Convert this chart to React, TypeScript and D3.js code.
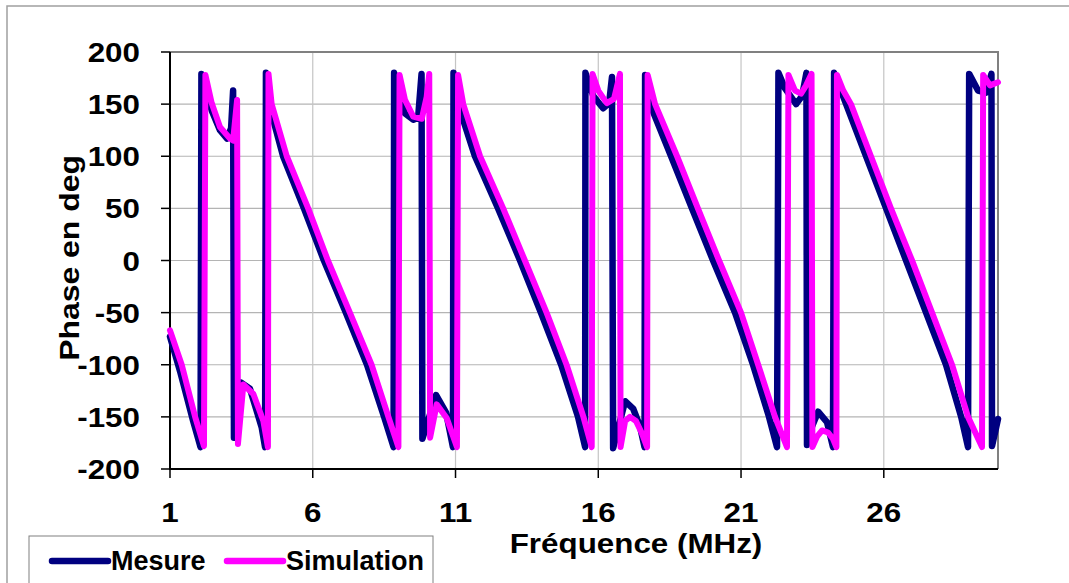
import React, { useEffect, useRef } from 'react';
import * as d3 from 'd3';

// frequency (MHz), phase (deg)
const mesure: [number, number][] = [
  [1.0, -73], [1.35, -106], [1.81, -154], [2.07, -179], [2.1, 179], [2.46, 144], [2.75, 125],
  [3.0, 117], [3.14, 127], [3.21, 163], [3.24, -170], [3.48, -117], [3.8, -123], [4.21, -160],
  [4.33, -179], [4.36, 180], [4.47, 150], [4.96, 100], [5.69, 50], [6.39, 0], [7.16, -50],
  [7.9, -100], [8.5, -150], [8.83, -179], [8.85, 180], [9.23, 141], [9.52, 135], [9.69, 137],
  [9.81, 179], [9.84, -171], [10.32, -129], [10.67, -146], [10.91, -179], [10.93, 180],
  [11.09, 150], [11.68, 100], [12.49, 50], [13.26, 0], [13.99, -50], [14.7, -100], [15.29, -150],
  [15.54, -179], [15.55, 180], [15.82, 158], [16.17, 146], [16.38, 151], [16.48, 176],
  [16.52, -180], [16.94, -135], [17.22, -142], [17.46, -159], [17.62, -179], [17.64, 178],
  [17.81, 150], [18.55, 100], [19.28, 50], [20.02, 0], [20.79, -50], [21.42, -100], [21.98, -150],
  [22.26, -179], [22.31, 180], [22.54, 165], [22.93, 150], [23.14, 158], [23.29, 180],
  [23.31, -177], [23.49, -159], [23.7, -145], [24.01, -155], [24.22, -179], [24.26, 180],
  [24.68, 150], [25.38, 100], [26.08, 50], [26.78, 0], [27.48, -50], [28.18, -100], [28.71, -150],
  [28.95, -179], [28.99, 179], [29.3, 163], [29.58, 161], [29.77, 179], [29.79, -178], [30.0, -152]
];

const simulation: [number, number][] = [
  [1.0, -67], [1.41, -100], [1.88, -150], [2.19, -178], [2.24, 178], [2.46, 151], [2.75, 128],
  [3.1, 117], [3.21, 115], [3.35, 154], [3.38, -176], [3.57, -119], [3.92, -128], [4.27, -154],
  [4.43, -179], [4.45, 179], [4.56, 150], [5.09, 100], [5.84, 50], [6.53, 0], [7.3, -50],
  [8.06, -100], [8.65, -150], [9.0, -179], [9.04, 178], [9.23, 154], [9.52, 138], [9.82, 136],
  [9.99, 157], [10.08, 179], [10.11, -170], [10.34, -138], [10.69, -151], [11.05, -179],
  [11.09, 178], [11.27, 150], [11.86, 100], [12.67, 50], [13.43, 0], [14.19, -50], [14.89, -100],
  [15.48, -150], [15.77, -179], [15.8, 179], [16.0, 163], [16.3, 151], [16.55, 155], [16.76, 179],
  [16.78, -179], [16.94, -154], [17.11, -150], [17.32, -154], [17.53, -166], [17.71, -179],
  [17.73, 178], [17.99, 150], [18.76, 100], [19.49, 50], [20.23, 0], [21.0, -50], [21.6, -100],
  [22.19, -150], [22.61, -179], [22.66, 178], [22.89, 163], [23.1, 160], [23.28, 168], [23.47, 179],
  [23.5, -179], [23.66, -169], [23.84, -163], [24.05, -165], [24.22, -171], [24.34, -179],
  [24.36, 178], [24.58, 163], [24.85, 150], [25.55, 100], [26.25, 50], [26.99, 0], [27.69, -50],
  [28.39, -100], [28.95, -150], [29.44, -179], [29.48, 178], [29.72, 168], [30.0, 171]
];

const xTicks = [1, 6, 11, 16, 21, 26];
const yTicks = [-200, -150, -100, -50, 0, 50, 100, 150, 200];
const seriesNames = ['Mesure', 'Simulation'];
const seriesColors = ['#000080', '#FF00FF'];

const FONT = 'Arial, "Liberation Sans", sans-serif';

const App = () => {
  const svgRef = useRef(null);

  useEffect(() => {
    const svg = d3.select(svgRef.current);
    svg.selectAll('*').remove();

    const x = d3.scaleLinear().domain([1, 30]).range([170, 998]);
    const y = d3.scaleLinear().domain([-200, 200]).range([469, 52]);

    svg.append('rect').attr('width', 1069).attr('height', 583).attr('fill', '#fff');

    // chart frame (runs past the right and bottom edges of the picture)
    svg.append('rect')
      .attr('x', 7).attr('y', 6).attr('width', 1100).attr('height', 620)
      .attr('fill', 'none').attr('stroke', '#a0a0a0').attr('stroke-width', 1.5);

    // gridlines
    yTicks.filter(v => v > -200 && v < 200).forEach(v => {
      svg.append('line')
        .attr('x1', x(1)).attr('x2', x(30)).attr('y1', y(v)).attr('y2', y(v))
        .attr('stroke', '#b4b4b4').attr('stroke-width', 1.2);
    });
    xTicks.filter(v => v > 1).forEach(v => {
      svg.append('line')
        .attr('x1', x(v)).attr('x2', x(v)).attr('y1', y(200)).attr('y2', y(-200))
        .attr('stroke', '#c4c4c4').attr('stroke-width', 1.2);
    });

    // plot border (top/right gray, axes black)
    svg.append('path')
      .attr('d', `M${x(1)},${y(200)}H${x(30)}V${y(-200)}`)
      .attr('fill', 'none').attr('stroke', '#808080').attr('stroke-width', 2);
    svg.append('path')
      .attr('d', `M${x(1)},${y(200)}V${y(-200)}H${x(30)}`)
      .attr('fill', 'none').attr('stroke', '#000').attr('stroke-width', 2);

    // ticks
    yTicks.forEach(v => {
      svg.append('line')
        .attr('x1', x(1) - 9).attr('x2', x(1)).attr('y1', y(v)).attr('y2', y(v))
        .attr('stroke', '#000').attr('stroke-width', 1.5);
      svg.append('g')
        .attr('transform', `translate(140,${y(v) + 10}) scale(1.12,1)`)
        .append('text')
        .attr('text-anchor', 'end')
        .attr('font-family', FONT).attr('font-weight', 'bold').attr('font-size', 28)
        .text(v);
    });
    xTicks.forEach(v => {
      svg.append('line')
        .attr('x1', x(v)).attr('x2', x(v)).attr('y1', y(-200)).attr('y2', y(-200) + 9)
        .attr('stroke', '#000').attr('stroke-width', 1.5);
      svg.append('g')
        .attr('transform', `translate(${x(v)},522) scale(1.12,1)`)
        .append('text')
        .attr('text-anchor', 'middle')
        .attr('font-family', FONT).attr('font-weight', 'bold').attr('font-size', 28)
        .text(v);
    });

    // axis titles
    svg.append('g')
      .attr('transform', 'translate(636,553) scale(1.12,1)')
      .append('text')
      .attr('text-anchor', 'middle')
      .attr('font-family', FONT).attr('font-weight', 'bold').attr('font-size', 28)
      .text('Fréquence (MHz)');
    svg.append('g')
      .attr('transform', 'translate(79,258) rotate(-90) scale(1.12,1)')
      .append('text')
      .attr('text-anchor', 'middle')
      .attr('font-family', FONT).attr('font-weight', 'bold').attr('font-size', 28.5)
      .text('Phase en deg');

    // series
    const line = d3.line<[number, number]>()
      .x(d => x(d[0]))
      .y(d => y(d[1]));

    [mesure, simulation].forEach((data, i) => {
      svg.append('path')
        .attr('d', line(data))
        .attr('fill', 'none')
        .attr('stroke', seriesColors[i])
        .attr('stroke-width', i === 0 ? 6.5 : 6)
        .attr('stroke-linejoin', 'round')
        .attr('stroke-linecap', 'round');
    });

    // legend
    const legend = svg.append('g');
    legend.append('rect')
      .attr('x', 29).attr('y', 536).attr('width', 404).attr('height', 70)
      .attr('fill', '#fff').attr('stroke', '#808080').attr('stroke-width', 1);
    const legendX = [52, 227];
    seriesNames.forEach((name, i) => {
      legend.append('line')
        .attr('x1', legendX[i]).attr('x2', legendX[i] + 56)
        .attr('y1', 561).attr('y2', 561)
        .attr('stroke', seriesColors[i]).attr('stroke-width', 6.5)
        .attr('stroke-linecap', 'round');
      legend.append('text')
        .attr('x', legendX[i] + 59).attr('y', 570)
        .attr('font-family', FONT).attr('font-weight', 'bold').attr('font-size', 27)
        .text(name);
    });

    return () => {
      svg.selectAll('*').remove();
    };
  }, []);

  return (
    <div style={{ position: 'absolute', left: 0, top: 0 }}>
      <svg ref={svgRef} width={1069} height={583} style={{ display: 'block' }} />
    </div>
  );
};

export default App;
